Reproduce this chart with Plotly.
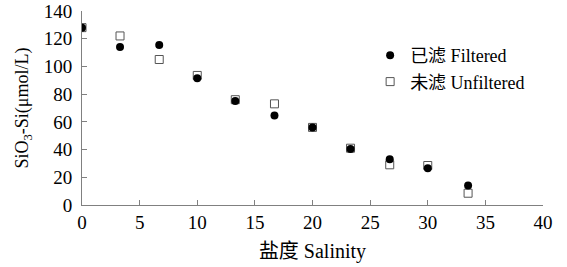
import plotly.graph_objects as go

salinity = [0, 3.3, 6.7, 10, 13.3, 16.7, 20, 23.3, 26.7, 30, 33.5]
filtered = [128, 114, 115.5, 91.5, 75, 64.5, 56, 40.5, 33, 26.5, 14]
unfiltered = [128, 122, 105, 93.5, 76, 73, 56, 41, 29, 28.5, 8.5]

x_ticks = [0, 5, 10, 15, 20, 25, 30, 35, 40]
y_ticks = [0, 20, 40, 60, 80, 100, 120, 140]

font_family = "Times New Roman, Liberation Serif, Noto Sans CJK SC, serif"
fs = 19

fig = go.Figure()
fig.add_trace(go.Scatter(
    x=salinity, y=unfiltered, mode="markers", name="未滤 Unfiltered",
    marker=dict(symbol="square-open", size=8, color="#555555", line=dict(width=1)),
))
fig.add_trace(go.Scatter(
    x=salinity, y=filtered, mode="markers", name="已滤 Filtered",
    marker=dict(symbol="circle", size=8, color="black"),
))

axis_common = dict(
    showgrid=False, zeroline=False, showline=True, linecolor="#808080", linewidth=1,
    ticks="inside", ticklen=5, tickcolor="#808080", tickwidth=1, automargin=False,
    tickfont=dict(family=font_family, size=fs, color="black"),
)

fig.update_layout(
    width=567, height=267,
    margin=dict(l=82, r=24, t=11, b=62),
    paper_bgcolor="white", plot_bgcolor="white",
    font=dict(family=font_family, size=18, color="black"),
    xaxis=dict(range=[0, 40], tickvals=x_ticks, ticklabelstandoff=0,
               title=dict(text="盐度 Salinity", standoff=12,
                          font=dict(family=font_family, size=20, color="black")),
               **axis_common),
    yaxis=dict(range=[0, 140], tickvals=y_ticks, ticklabelstandoff=5,
               title=dict(text="SiO<sub>3</sub>-Si(μmol/L)", standoff=10,
                          font=dict(family=font_family, size=18, color="black")),
               **axis_common),
    legend=dict(x=0.625, y=0.866, xanchor="left", yanchor="top",
                traceorder="reversed", bgcolor="rgba(0,0,0,0)",
                font=dict(family=font_family, size=18, color="black"), itemwidth=30,
                tracegroupgap=0),
    showlegend=True,
)

fig.write_html("out.html", config={"displayModeBar": False},
               post_script="document.body.style.margin='0';")
